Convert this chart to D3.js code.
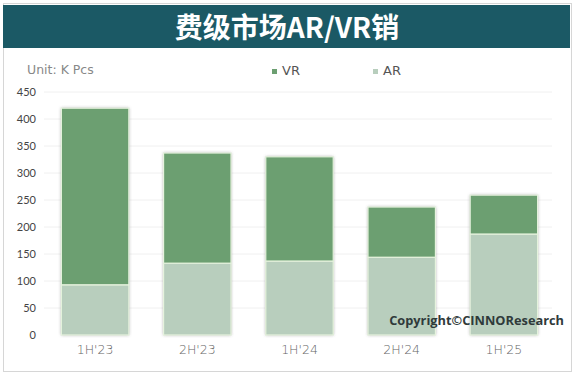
<!DOCTYPE html>
<html>
<head>
<meta charset="utf-8">
<script src="https://cdn.jsdelivr.net/npm/d3@7"></script>
<style>
  body { margin: 0; background: #fff; }
  svg { display: block; font-family: Lato, "DejaVu Sans", sans-serif; }
</style>
</head>
<body>
<div id="chart"></div>
<script>
// stacked bars: AR at bottom, VR on top
const periods = ["1H'23", "2H'23", "1H'24", "2H'24", "1H'25"];
const arValues = [93, 133, 137, 144, 187];
const vrValues = [327, 204, 193, 93, 72];
const yTicks = [0, 50, 100, 150, 200, 250, 300, 350, 400, 450];

const width = 576, height = 376;
const svg = d3.select("#chart").append("svg")
  .attr("width", width)
  .attr("height", height);

// shadow behind bars
const defs = svg.append("defs");
const f = defs.append("filter").attr("id", "shadow")
  .attr("x", "-20%").attr("y", "-10%").attr("width", "140%").attr("height", "120%");
f.append("feDropShadow")
  .attr("dx", 0).attr("dy", 0).attr("stdDeviation", 1.6)
  .attr("flood-color", "#555").attr("flood-opacity", 0.6);

// frame
svg.append("rect")
  .attr("x", 3.5).attr("y", 3.5)
  .attr("width", 568).attr("height", 368)
  .attr("fill", "#fff").attr("stroke", "#d6d6d6");

// title band
svg.append("rect")
  .attr("x", 3).attr("y", 5)
  .attr("width", 567).attr("height", 43)
  .attr("fill", "#1b5965");

svg.append("text")
  .attr("x", 287).attr("y", 38)
  .attr("text-anchor", "middle")
  .attr("fill", "#fff")
  .style("font-family", "'Noto Sans CJK SC', sans-serif")
  .style("font-weight", "700")
  .style("font-size", "28px")
  .text("费级市场AR/VR销");

const x = d3.scaleBand()
  .domain(periods)
  .range([44, 555])
  .paddingInner(0.34)
  .paddingOuter(0.17);

const y = d3.scaleLinear()
  .domain([0, 450])
  .range([335, 92]);

// faint gridlines
svg.append("g")
  .selectAll("line")
  .data(yTicks.slice(1))
  .join("line")
  .attr("x1", 44).attr("x2", 552)
  .attr("y1", d => y(d)).attr("y2", d => y(d))
  .attr("stroke", "#f0f0f0");

// y axis labels
const yAxis = svg.append("g")
  .attr("transform", "translate(36,0)")
  .call(d3.axisLeft(y).tickValues(yTicks).tickSize(0).tickPadding(0));
yAxis.select(".domain").remove();
yAxis.selectAll("text")
  .attr("fill", "#444")
  .style("font-size", "11px")
  .style("font-family", "Lato, sans-serif");

// x axis labels
const xAxis = svg.append("g")
  .attr("transform", "translate(0,343)")
  .call(d3.axisBottom(x).tickSize(0).tickPadding(2));
xAxis.select(".domain").remove();
xAxis.selectAll("text")
  .attr("fill", "#666")
  .style("font-size", "12.5px")
  .style("font-family", "'DejaVu Sans', sans-serif")
  .style("font-weight", "300");

// bars
const stackData = periods.map((p, i) => ({ period: p, AR: arValues[i], VR: vrValues[i] }));
const series = d3.stack().keys(["AR", "VR"])(stackData);
const colors = { AR: "#b8cebd", VR: "#6c9f71" };

// shadow layer (whole bar)
svg.append("g")
  .selectAll("rect")
  .data(stackData)
  .join("rect")
  .attr("x", d => x(d.period))
  .attr("y", d => y(d.AR + d.VR))
  .attr("width", x.bandwidth())
  .attr("height", d => y(0) - y(d.AR + d.VR))
  .attr("fill", "#999")
  .attr("filter", "url(#shadow)");

svg.append("g")
  .selectAll("g")
  .data(series)
  .join("g")
  .attr("fill", d => colors[d.key])
  .selectAll("rect")
  .data(d => d)
  .join("rect")
  .attr("x", d => x(d.data.period))
  .attr("y", d => y(d[1]))
  .attr("width", x.bandwidth())
  .attr("height", d => y(d[0]) - y(d[1]))
  .attr("stroke", "#e6f3de")
  .attr("stroke-width", 1.2);

// unit label
svg.append("text")
  .attr("x", 27).attr("y", 74)
  .attr("fill", "#888")
  .style("font-family", "'DejaVu Sans', sans-serif")
  .style("font-size", "12.5px")
  .text("Unit:  K Pcs");

// legend
const legend = [
  { key: "VR", x: 272 },
  { key: "AR", x: 373 }
];
const lg = svg.append("g").selectAll("g")
  .data(legend)
  .join("g")
  .attr("transform", d => `translate(${d.x},75)`);
lg.append("rect")
  .attr("x", 0).attr("y", -6)
  .attr("width", 5).attr("height", 5)
  .attr("fill", d => colors[d.key]);
lg.append("text")
  .attr("x", 10).attr("y", 0)
  .attr("fill", "#555")
  .style("font-family", "'DejaVu Sans', sans-serif")
  .style("font-size", "13px")
  .text(d => d.key);

// watermark
svg.append("text")
  .attr("x", 564).attr("y", 325)
  .attr("text-anchor", "end")
  .attr("fill", "#2f3a3a")
  .style("font-family", "'Open Sans', 'DejaVu Sans', sans-serif")
  .style("font-weight", "700")
  .style("font-size", "12.8px")
  .text("Copyright©CINNOResearch");
</script>
</body>
</html>
